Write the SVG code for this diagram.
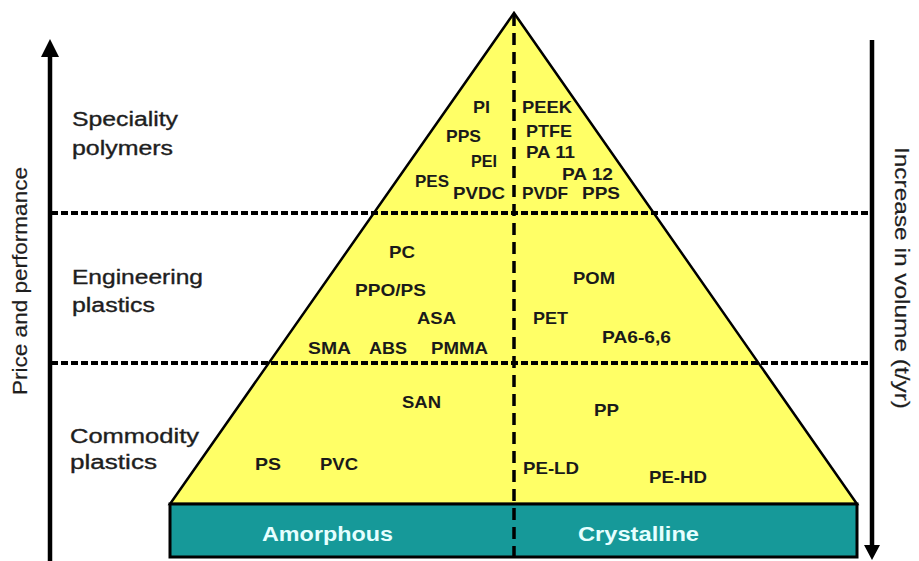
<svg xmlns="http://www.w3.org/2000/svg" width="919" height="561" viewBox="0 0 919 561">
<style>
.t{font-family:"Liberation Sans",Arial,sans-serif;font-size:17px;font-weight:bold;fill:#1a1a1a}
.side{font-family:"Liberation Sans",Arial,sans-serif;font-size:20px;fill:#1e1e1e;stroke:#1e1e1e;stroke-width:0.35}
.axis{font-family:"Liberation Sans",Arial,sans-serif;font-size:20px;fill:#1e1e1e;stroke:#1e1e1e;stroke-width:0.2}
.base{font-family:"Liberation Sans",Arial,sans-serif;font-size:20px;font-weight:bold;fill:#e6ffff}
.hdash{stroke:#000;stroke-width:4;stroke-dasharray:7 3;fill:none}
.vdash{stroke:#000;stroke-width:3.5;stroke-dasharray:12 7;fill:none}
</style>
<rect width="919" height="561" fill="#fff"/>
<g id="pyramid">
<polygon points="514,13 170,504 857,504" fill="#ffff66" stroke="#000" stroke-width="2.5" stroke-linejoin="miter"/>
</g>
<g id="base-bar">
<rect x="170" y="504" width="687" height="53" fill="#169999" stroke="#000" stroke-width="3"/>
<text class="base" x="262" y="541" textLength="131" lengthAdjust="spacingAndGlyphs">Amorphous</text>
<text class="base" x="578" y="541" textLength="121" lengthAdjust="spacingAndGlyphs">Crystalline</text>
</g>
<g id="connectors">
<line class="hdash" x1="51" y1="213" x2="870" y2="213"/>
<line class="hdash" x1="51" y1="363" x2="870" y2="363"/>
<line class="vdash" x1="514" y1="14" x2="514" y2="558"/>
<line x1="50" y1="54" x2="50" y2="561" stroke="#000" stroke-width="4.5"/>
<polygon points="50,39 41,57 59,57" fill="#000"/>
<line x1="872" y1="40" x2="872" y2="548" stroke="#000" stroke-width="4.5"/>
<polygon points="872,560 864,545 880,545" fill="#000"/>
</g>
<g id="axis-left">
<text class="axis" transform="translate(27,281) rotate(-90)" text-anchor="middle" textLength="228" lengthAdjust="spacingAndGlyphs">Price and performance</text>
</g>
<g id="axis-right">
<text class="axis" transform="translate(895,278) rotate(90)" text-anchor="middle" textLength="262" lengthAdjust="spacingAndGlyphs">Increase in volume (t/yr)</text>
</g>
<g id="tier-speciality">
<text class="side" x="72" y="126" textLength="106" lengthAdjust="spacingAndGlyphs">Speciality</text>
<text class="side" x="72" y="155" textLength="101" lengthAdjust="spacingAndGlyphs">polymers</text>
<text class="t" x="473" y="113" textLength="17" lengthAdjust="spacingAndGlyphs">PI</text>
<text class="t" x="522" y="113" textLength="50" lengthAdjust="spacingAndGlyphs">PEEK</text>
<text class="t" x="446" y="142" textLength="35" lengthAdjust="spacingAndGlyphs">PPS</text>
<text class="t" x="526" y="137" textLength="46" lengthAdjust="spacingAndGlyphs">PTFE</text>
<text class="t" x="471" y="167" textLength="26" lengthAdjust="spacingAndGlyphs">PEI</text>
<text class="t" x="526" y="158" textLength="49" lengthAdjust="spacingAndGlyphs">PA 11</text>
<text class="t" x="562" y="180" textLength="51" lengthAdjust="spacingAndGlyphs">PA 12</text>
<text class="t" x="415" y="187" textLength="34" lengthAdjust="spacingAndGlyphs">PES</text>
<text class="t" x="453" y="199" textLength="52" lengthAdjust="spacingAndGlyphs">PVDC</text>
<text class="t" x="522" y="199" textLength="46" lengthAdjust="spacingAndGlyphs">PVDF</text>
<text class="t" x="582" y="199" textLength="38" lengthAdjust="spacingAndGlyphs">PPS</text>
</g>
<g id="tier-engineering">
<text class="side" x="72" y="284" textLength="131" lengthAdjust="spacingAndGlyphs">Engineering</text>
<text class="side" x="72" y="312" textLength="83" lengthAdjust="spacingAndGlyphs">plastics</text>
<text class="t" x="389" y="258" textLength="26" lengthAdjust="spacingAndGlyphs">PC</text>
<text class="t" x="355" y="296" textLength="71" lengthAdjust="spacingAndGlyphs">PPO/PS</text>
<text class="t" x="417" y="324" textLength="39" lengthAdjust="spacingAndGlyphs">ASA</text>
<text class="t" x="308" y="354" textLength="43" lengthAdjust="spacingAndGlyphs">SMA</text>
<text class="t" x="369" y="354" textLength="38" lengthAdjust="spacingAndGlyphs">ABS</text>
<text class="t" x="431" y="354" textLength="57" lengthAdjust="spacingAndGlyphs">PMMA</text>
<text class="t" x="573" y="284" textLength="42" lengthAdjust="spacingAndGlyphs">POM</text>
<text class="t" x="533" y="324" textLength="35" lengthAdjust="spacingAndGlyphs">PET</text>
<text class="t" x="602" y="343" textLength="69" lengthAdjust="spacingAndGlyphs">PA6-6,6</text>
</g>
<g id="tier-commodity">
<text class="side" x="70" y="443" textLength="129" lengthAdjust="spacingAndGlyphs">Commodity</text>
<text class="side" x="70" y="469" textLength="87" lengthAdjust="spacingAndGlyphs">plastics</text>
<text class="t" x="402" y="408" textLength="39" lengthAdjust="spacingAndGlyphs">SAN</text>
<text class="t" x="255" y="470" textLength="26" lengthAdjust="spacingAndGlyphs">PS</text>
<text class="t" x="320" y="470" textLength="38" lengthAdjust="spacingAndGlyphs">PVC</text>
<text class="t" x="594" y="416" textLength="25" lengthAdjust="spacingAndGlyphs">PP</text>
<text class="t" x="523" y="474" textLength="56" lengthAdjust="spacingAndGlyphs">PE-LD</text>
<text class="t" x="649" y="483" textLength="58" lengthAdjust="spacingAndGlyphs">PE-HD</text>
</g>
</svg>
